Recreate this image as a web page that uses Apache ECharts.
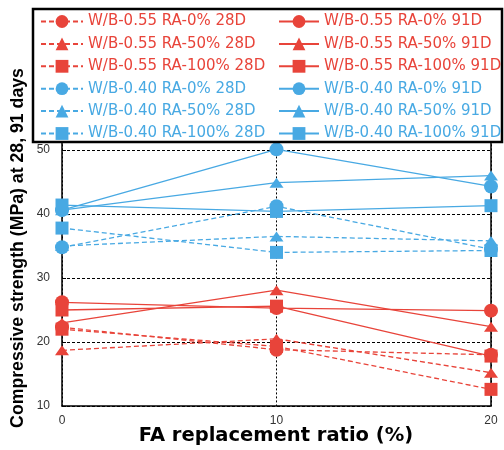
<!DOCTYPE html>
<html>
<head>
<meta charset="utf-8">
<script src="https://cdn.jsdelivr.net/npm/echarts@6/dist/echarts.min.js"></script>
<style>
  html, body { margin: 0; padding: 0; background: #fff; }
  #chart { width: 504px; height: 450px; }
</style>
</head>
<body>
<div id="chart"></div>
<script>
// FA replacement ratio (%)
const faRatio = [0, 10, 20];

// Compressive strength (MPa), W/B 0.55
const wb55_ra0_28d   = [22.3, 18.8, 18.0];
const wb55_ra50_28d  = [18.7, 20.5, 15.2];
const wb55_ra100_28d = [22.0, 19.3, 12.6];
const wb55_ra0_91d   = [26.2, 25.3, 24.9];
const wb55_ra50_91d  = [23.0, 28.1, 22.4];
const wb55_ra100_91d = [25.0, 25.6, 17.8];

// Compressive strength (MPa), W/B 0.40
const wb40_ra0_28d   = [34.8, 41.2, 34.5];
const wb40_ra50_28d  = [35.0, 36.5, 35.8];
const wb40_ra100_28d = [37.8, 34.0, 34.3];
const wb40_ra0_91d   = [40.6, 50.1, 44.3];
const wb40_ra50_91d  = [40.6, 44.9, 46.0];
const wb40_ra100_91d = [41.4, 40.4, 41.3];

const xTicks = [0, 10, 20];
const yTicks = [10, 20, 30, 40, 50];

const RED = '#E8443A';
const BLUE = '#48A9E3';

const seriesDefs = [
  { name: 'W/B-0.55 RA-0% 28D',   data: wb55_ra0_28d,   color: RED,  symbol: 'circle',   dashed: true },
  { name: 'W/B-0.55 RA-50% 28D',  data: wb55_ra50_28d,  color: RED,  symbol: 'triangle', dashed: true },
  { name: 'W/B-0.55 RA-100% 28D', data: wb55_ra100_28d, color: RED,  symbol: 'rect',     dashed: true },
  { name: 'W/B-0.40 RA-0% 28D',   data: wb40_ra0_28d,   color: BLUE, symbol: 'circle',   dashed: true },
  { name: 'W/B-0.40 RA-50% 28D',  data: wb40_ra50_28d,  color: BLUE, symbol: 'triangle', dashed: true },
  { name: 'W/B-0.40 RA-100% 28D', data: wb40_ra100_28d, color: BLUE, symbol: 'rect',     dashed: true },
  { name: 'W/B-0.55 RA-0% 91D',   data: wb55_ra0_91d,   color: RED,  symbol: 'circle',   dashed: false },
  { name: 'W/B-0.55 RA-50% 91D',  data: wb55_ra50_91d,  color: RED,  symbol: 'triangle', dashed: false },
  { name: 'W/B-0.55 RA-100% 91D', data: wb55_ra100_91d, color: RED,  symbol: 'rect',     dashed: false },
  { name: 'W/B-0.40 RA-0% 91D',   data: wb40_ra0_91d,   color: BLUE, symbol: 'circle',   dashed: false },
  { name: 'W/B-0.40 RA-50% 91D',  data: wb40_ra50_91d,  color: BLUE, symbol: 'triangle', dashed: false },
  { name: 'W/B-0.40 RA-100% 91D', data: wb40_ra100_91d, color: BLUE, symbol: 'rect',     dashed: false }
];

const symbolSizes = { circle: 14, rect: 13, triangle: [14, 10] };

const series = seriesDefs.map(function (d) {
  return {
    name: d.name,
    type: 'line',
    data: d.data.map(function (v, i) { return [faRatio[i], v]; }),
    symbol: d.symbol,
    symbolSize: symbolSizes[d.symbol],
    itemStyle: { color: d.color },
    lineStyle: { color: d.color, width: 1.3, type: d.dashed ? [5, 3] : 'solid' },
    z: 3,
    animation: false
  };
});

const legendFont = { fontFamily: 'DejaVu Sans', fontSize: 15 };
function legendData(names) {
  return names.map(function (n) {
    const def = seriesDefs.find(function (d) { return d.name === n; });
    return { name: n, textStyle: Object.assign({ color: def.color }, legendFont) };
  });
}
const col28 = seriesDefs.filter(function (d) { return d.dashed; }).map(function (d) { return d.name; });
const col91 = seriesDefs.filter(function (d) { return !d.dashed; }).map(function (d) { return d.name; });

const legendCommon = {
  orient: 'vertical',
  top: 9,
  itemHeight: 16,
  itemGap: 7.4,
  selectedMode: false,
  z: 20
};

const chart = echarts.init(document.getElementById('chart'), null, { renderer: 'canvas' });
chart.setOption({
  backgroundColor: '#fff',
  animation: false,
  grid: { left: 62, right: 13, top: 140.4, bottom: 44, outerBoundsMode: 'none', containLabel: false },
  graphic: [{
    type: 'rect',
    shape: { x: 33, y: 9, width: 469, height: 133 },
    style: { fill: '#fff', stroke: '#000', lineWidth: 2.5 },
    z: 10
  }, {
    // y-axis title
    type: 'text',
    x: 18, y: 248,
    rotation: Math.PI / 2,
    style: {
      text: 'Compressive strength (MPa) at 28, 91 days',
      fontFamily: 'Liberation Sans', fontWeight: 'bold', fontSize: 17.7,
      fill: '#000', align: 'center', verticalAlign: 'middle'
    },
    z: 5
  }, {
    // x-axis title
    type: 'text',
    x: 276, y: 436,
    style: {
      text: 'FA replacement ratio (%)',
      fontFamily: 'DejaVu Sans', fontWeight: 'bold', fontSize: 19.5,
      fill: '#000', align: 'center', verticalAlign: 'middle'
    },
    z: 5
  }],
  legend: [
    Object.assign({ left: 35, itemWidth: 42, data: legendData(col28) }, legendCommon),
    Object.assign({ left: 273, itemWidth: 40, data: legendData(col91) }, legendCommon)
  ],
  xAxis: {
    type: 'value',
    min: 0, max: 20, interval: 10,
    axisLine: { lineStyle: { color: '#000', width: 1.5 } },
    axisTick: { show: false },
    axisLabel: {
      margin: 9, color: '#333', fontFamily: 'Liberation Sans', fontSize: 12,
      formatter: function (v) { return xTicks.indexOf(v) >= 0 ? String(v) : ''; }
    },
    splitLine: { show: true, lineStyle: { color: '#000', type: [2, 2], width: 1 } }
  },
  yAxis: [{
    type: 'value',
    min: 10, max: 51.5, interval: 10,
    axisLine: { show: true, lineStyle: { color: '#000', width: 1.5 } },
    axisTick: { show: true, inside: true, length: 4, lineStyle: { color: '#000' } },
    axisLabel: {
      margin: 12, color: '#333', fontFamily: 'Liberation Sans', fontSize: 12,
      showMaxLabel: false,
      formatter: function (v) { return yTicks.indexOf(v) >= 0 ? String(v) : ''; }
    },
    splitLine: { show: true, lineStyle: { color: '#000', type: [3, 2], width: 1 } }
  }, {
    type: 'value',
    position: 'right',
    min: 10, max: 51.5, interval: 10,
    axisLine: { show: true, lineStyle: { color: '#000', width: 1.5 } },
    axisTick: { show: false },
    axisLabel: { show: false },
    splitLine: { show: false }
  }],
  series: series
});
</script>
</body>
</html>
